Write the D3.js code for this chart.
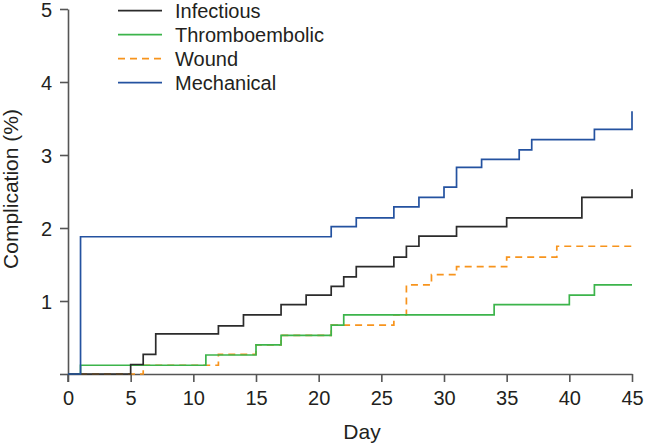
<!DOCTYPE html>
<html>
<head>
<meta charset="utf-8">
<script src="https://cdn.jsdelivr.net/npm/d3@7"></script>
<style>
  html, body { margin: 0; padding: 0; background: #fff; }
  svg { display: block; }
  text { font-family: "Liberation Sans", Arial, Helvetica, sans-serif; fill: #231f20; }
</style>
</head>
<body>
<svg id="chart" width="647" height="447"></svg>
<script>
// ---- data ----
const seriesNames = ["Infectious", "Thromboembolic", "Wound", "Mechanical"];

const infectiousDays   = [0, 5, 6, 7, 12, 14, 17, 19, 21, 22, 23, 26, 27, 28, 31, 35, 41, 45, 45];
const infectiousValues = [0, 0.13, 0.27, 0.55, 0.66, 0.81, 0.95, 1.08, 1.20, 1.33, 1.47, 1.60, 1.75, 1.89, 2.02, 2.14, 2.42, 2.42, 2.53];

const thromboDays   = [0, 1, 11, 15, 17, 21, 22, 34, 40, 42, 45];
const thromboValues = [0, 0.12, 0.26, 0.40, 0.53, 0.67, 0.81, 0.95, 1.08, 1.22, 1.22];

const woundDays   = [0, 6, 12, 15, 17, 21, 26, 27, 29, 31, 35, 39, 45];
const woundValues = [0, 0.12, 0.27, 0.40, 0.53, 0.67, 0.81, 1.22, 1.36, 1.47, 1.60, 1.75, 1.75];

const mechanicalDays   = [0, 1, 21, 23, 26, 28, 30, 31, 33, 36, 37, 42, 45, 45];
const mechanicalValues = [0, 1.88, 2.02, 2.14, 2.29, 2.42, 2.56, 2.83, 2.94, 3.07, 3.21, 3.35, 3.35, 3.60];

const xTicks = [0, 5, 10, 15, 20, 25, 30, 35, 40, 45];
const yTicks = [0, 1, 2, 3, 4, 5];
const yTickLabels = ["", "1", "2", "3", "4", "5"];
const xTitle = "Day";
const yTitle = "Complication (%)";

// ---- styles ----
const colors = { Infectious: "#2b2b2b", Thromboembolic: "#3cb44b", Wound: "#f7941d", Mechanical: "#2452a0" };
const dashes = { Infectious: null, Thromboembolic: null, Wound: "7,5", Mechanical: null };
const axisColor = "#555555";

const svg = d3.select("#chart");
const x = d3.scaleLinear().domain([0, 45]).range([68, 632]);
const y = d3.scaleLinear().domain([0, 5]).range([374, 9]);

const series = {
  Infectious: d3.zip(infectiousDays, infectiousValues),
  Thromboembolic: d3.zip(thromboDays, thromboValues),
  Wound: d3.zip(woundDays, woundValues),
  Mechanical: d3.zip(mechanicalDays, mechanicalValues)
};

// axes
const xAxis = d3.axisBottom(x).tickValues(xTicks).tickSize(8).tickSizeOuter(0).tickPadding(9);
const gx = svg.append("g").attr("transform", `translate(0,${y(0)})`).call(xAxis);
gx.select(".domain").attr("stroke", axisColor).attr("stroke-width", 1.6);
gx.selectAll(".tick line").attr("stroke", axisColor).attr("stroke-width", 1.6);
gx.selectAll(".tick text").attr("font-size", 20).attr("font-family", "Liberation Sans, Arial, sans-serif").attr("fill", "#231f20");

const yAxis = d3.axisLeft(y).tickValues(yTicks).tickFormat((d, i) => yTickLabels[i]).tickSize(8).tickSizeOuter(0).tickPadding(8);
const gy = svg.append("g").attr("transform", `translate(${x(0)},0)`).call(yAxis);
gy.select(".domain").attr("stroke", axisColor).attr("stroke-width", 1.6);
gy.selectAll(".tick line").attr("stroke", axisColor).attr("stroke-width", 1.6);
gy.selectAll(".tick text").attr("font-size", 20).attr("font-family", "Liberation Sans, Arial, sans-serif").attr("fill", "#231f20")
  .attr("dy", "0.36em");
// extend y axis line down to x-tick length at 0
svg.append("line").attr("x1", x(0)).attr("x2", x(0)).attr("y1", y(0)).attr("y2", y(0) + 8)
  .attr("stroke", axisColor).attr("stroke-width", 1.6);

// axis titles
svg.append("text").attr("x", 362).attr("y", 439).attr("text-anchor", "middle").attr("font-size", 21).text(xTitle);
svg.append("text").attr("transform", `translate(18,${189}) rotate(-90)`).attr("text-anchor", "middle").attr("font-size", 21).text(yTitle);

// lines (draw order)
const line = d3.line().x(d => x(d[0])).y(d => y(d[1])).curve(d3.curveStepAfter);
["Wound", "Thromboembolic", "Infectious", "Mechanical"].forEach(name => {
  svg.append("path").datum(series[name]).attr("d", line)
    .attr("fill", "none").attr("stroke", colors[name]).attr("stroke-width", 1.7)
    .attr("stroke-dasharray", dashes[name]);
});

// legend
const leg = svg.append("g");
seriesNames.forEach((name, i) => {
  const ly = 10.6 + i * 24;
  leg.append("line").attr("x1", 118).attr("x2", 162).attr("y1", ly).attr("y2", ly)
    .attr("stroke", colors[name]).attr("stroke-width", 1.7).attr("stroke-dasharray", dashes[name]);
  leg.append("text").attr("x", 175).attr("y", ly + 7.6).attr("font-size", 20).text(name);
});
</script>
</body>
</html>
